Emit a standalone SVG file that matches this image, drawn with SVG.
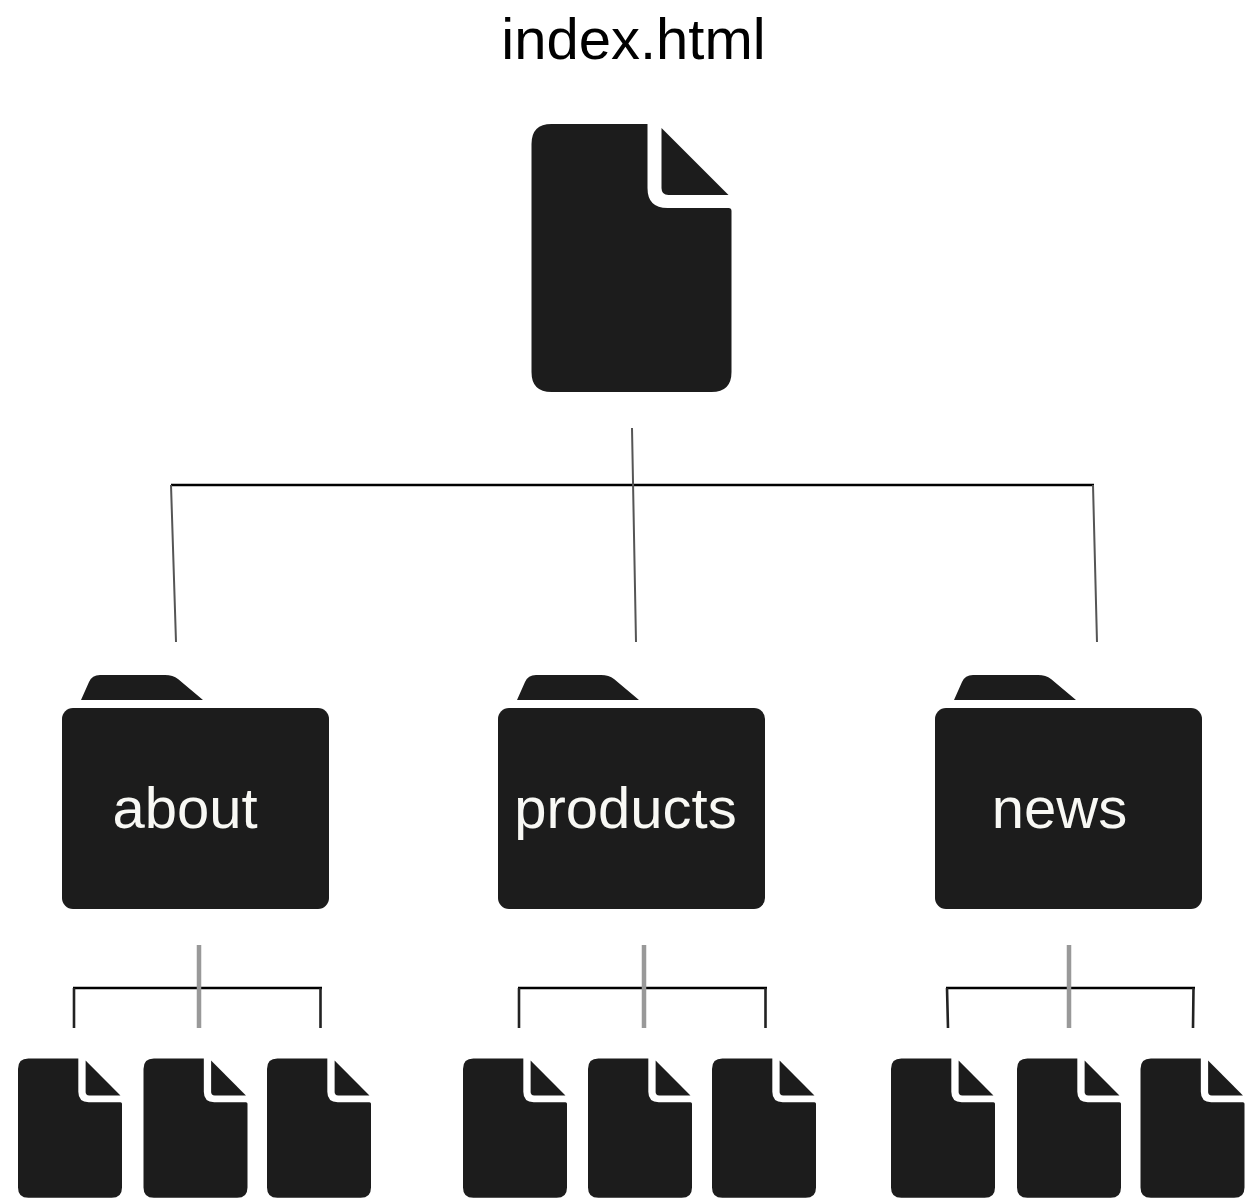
<svg xmlns="http://www.w3.org/2000/svg" width="1247" height="1199" viewBox="0 0 1247 1199">
<style>
.t{font-family:"Liberation Sans",Arial,sans-serif;font-size:58px}
.f{fill:#1c1c1c}
.w{fill:#f8f8f4}
.h{fill:none;stroke:#000;stroke-width:2.4}
.v{fill:none;stroke:#555;stroke-width:2}
.g{fill:none;stroke:#999;stroke-width:4.5}
.k{fill:none;stroke:#222;stroke-width:2.6}
</style>
<defs>
<g id="doc">
<path class="f" d="M20 0H116V64Q116 84 136 84H197Q200 84 200 87V248Q200 268 180 268H20Q0 268 0 248V20Q0 0 20 0Z"/>
<path class="f" d="M130 4L197 71H137Q130 71 130 64Z"/>
</g>
<g id="folder">
<path class="f" d="M19 -8L27 -26Q30 -33 38 -33H103Q111 -33 116 -29L141 -8Z"/>
<rect class="f" x="0" y="0" width="267" height="201" rx="11"/>
</g>
</defs>
<rect width="1247" height="1199" fill="#fff"/>
<g id="connectors">
<path class="h" d="M171 485H1094"/>
<path class="v" d="M632 428L636 642M171 485L176 642M1093 485L1097 642"/>
<path class="h" d="M73 988H322M518 988H767M946 988H1195"/>
<path class="k" d="M74 988V1028M320.500 988V1028M519 988V1028M765.500 988V1028M947 988L948 1028M1193.500 988L1193 1028"/>
<path class="g" d="M199 945V1028M644 945V1028M1069 945V1028"/>
</g>
<g id="index-label"><text class="t" x="633.500" y="59" text-anchor="middle">index.html</text></g>
<g id="index-doc"><use href="#doc" x="531.500" y="124"/></g>
<g id="about"><use href="#folder" x="62" y="708"/><text class="t w" x="185" y="828" text-anchor="middle">about</text></g>
<g id="products"><use href="#folder" x="498" y="708"/><text class="t w" x="625.500" y="828" text-anchor="middle">products</text></g>
<g id="news"><use href="#folder" x="935" y="708"/><text class="t w" x="1059.500" y="828" text-anchor="middle">news</text></g>
<g id="about-1"><use href="#doc" transform="translate(18 1058.500) scale(.52)"/></g>
<g id="about-2"><use href="#doc" transform="translate(143.500 1058.500) scale(.52)"/></g>
<g id="about-3"><use href="#doc" transform="translate(267 1058.500) scale(.52)"/></g>
<g id="products-1"><use href="#doc" transform="translate(463 1058.500) scale(.52)"/></g>
<g id="products-2"><use href="#doc" transform="translate(588 1058.500) scale(.52)"/></g>
<g id="products-3"><use href="#doc" transform="translate(712 1058.500) scale(.52)"/></g>
<g id="news-1"><use href="#doc" transform="translate(891 1058.500) scale(.52)"/></g>
<g id="news-2"><use href="#doc" transform="translate(1017 1058.500) scale(.52)"/></g>
<g id="news-3"><use href="#doc" transform="translate(1140.500 1058.500) scale(.52)"/></g>
</svg>
